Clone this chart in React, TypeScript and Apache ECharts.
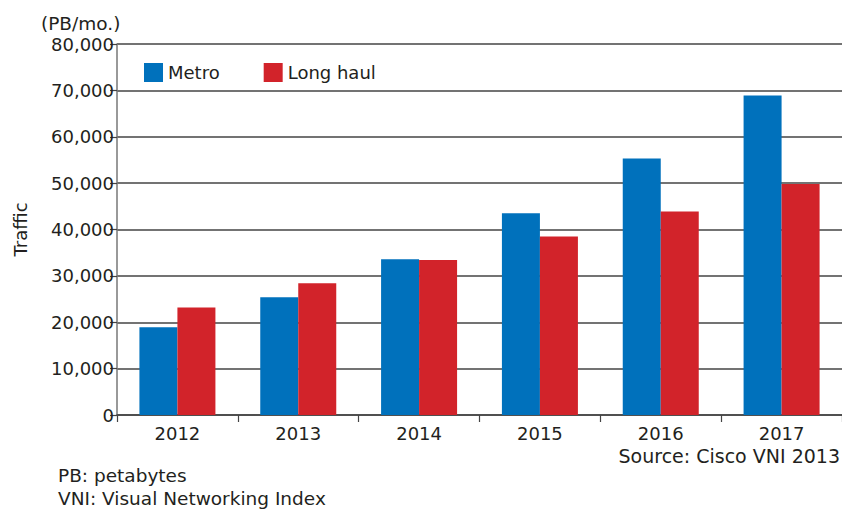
import React, { useEffect, useRef } from "react";
import * as echarts from "echarts";

const years = ["2012", "2013", "2014", "2015", "2016", "2017"];
const metro = [18900, 25400, 33600, 43500, 55300, 68900];
const longHaul = [23200, 28400, 33400, 38500, 43900, 49800];
const yTicks = { min: 0, max: 80000, interval: 10000 };

const FONT = "DejaVu Sans, Liberation Sans, Arial, sans-serif";
const TEXT = "#231f20";

export default function App() {
  const ref = useRef<HTMLDivElement>(null);
  useEffect(() => {
    document.body.style.margin = "0";
    if (!ref.current) return;
    const chart = echarts.init(ref.current, undefined, { renderer: "svg" });
    chart.setOption({
      animation: false,
      backgroundColor: "#ffffff",
      textStyle: { fontFamily: FONT, color: TEXT },
      grid: {
        left: 117,
        top: 44,
        width: 725,
        height: 371,
        containLabel: false,
        outerBoundsMode: "none",
      },
      legend: {
        left: 139,
        top: 58,
        itemWidth: 19,
        itemHeight: 19,
        itemGap: 44,
        icon: "rect",
        textStyle: { fontSize: 18, color: TEXT, fontFamily: FONT },
        data: ["Metro", "Long haul"],
      },
      xAxis: {
        type: "category",
        data: years,
        boundaryGap: true,
        axisLine: { show: true, lineStyle: { color: "#444", width: 1.5 } },
        axisTick: { show: true, length: 7, alignWithLabel: false, lineStyle: { color: "#444", width: 1.2 } },
        axisLabel: { fontSize: 18, color: TEXT, margin: 9, fontFamily: FONT },
      },
      yAxis: {
        type: "value",
        min: yTicks.min,
        max: yTicks.max,
        interval: yTicks.interval,
        name: "Traffic",
        nameLocation: "middle",
        nameGap: 88,
        nameTextStyle: { fontSize: 18, color: TEXT, fontFamily: FONT },
        axisLine: { show: true, lineStyle: { color: "#777", width: 1.5 } },
        axisTick: { show: true, length: 7, lineStyle: { color: "#444", width: 1.2 } },
        axisLabel: {
          fontSize: 18,
          color: TEXT,
          margin: 3,
          fontFamily: FONT,
          formatter: (v: number) => v.toLocaleString("en-US"),
        },
        splitLine: { show: true, lineStyle: { color: "#444", width: 1.5 } },
      },
      series: [
        {
          name: "Metro",
          type: "bar",
          data: metro,
          barWidth: 38,
          barGap: "0%",
          itemStyle: { color: "#0071bc" },
        },
        {
          name: "Long haul",
          type: "bar",
          data: longHaul,
          barWidth: 38,
          barGap: "0%",
          itemStyle: { color: "#d2232a" },
        },
      ],
      graphic: [
        {
          type: "text",
          x: 41,
          y: 23,
          style: { text: "(PB/mo.)", fontSize: 18.5, fill: TEXT, fontFamily: FONT, align: "left", verticalAlign: "middle" },
        },
        {
          type: "text",
          x: 840,
          y: 456,
          style: { text: "Source: Cisco VNI 2013", fontSize: 19, fill: TEXT, fontFamily: FONT, align: "right", verticalAlign: "middle" },
        },
        {
          type: "text",
          x: 58,
          y: 475,
          style: { text: "PB: petabytes", fontSize: 18.5, fill: TEXT, fontFamily: FONT, align: "left", verticalAlign: "middle" },
        },
        {
          type: "text",
          x: 58,
          y: 498,
          style: { text: "VNI: Visual Networking Index", fontSize: 18.5, fill: TEXT, fontFamily: FONT, align: "left", verticalAlign: "middle" },
        },
      ],
    });
    return () => chart.dispose();
  }, []);
  return <div ref={ref} style={{ width: 842, height: 511 }} />;
}
